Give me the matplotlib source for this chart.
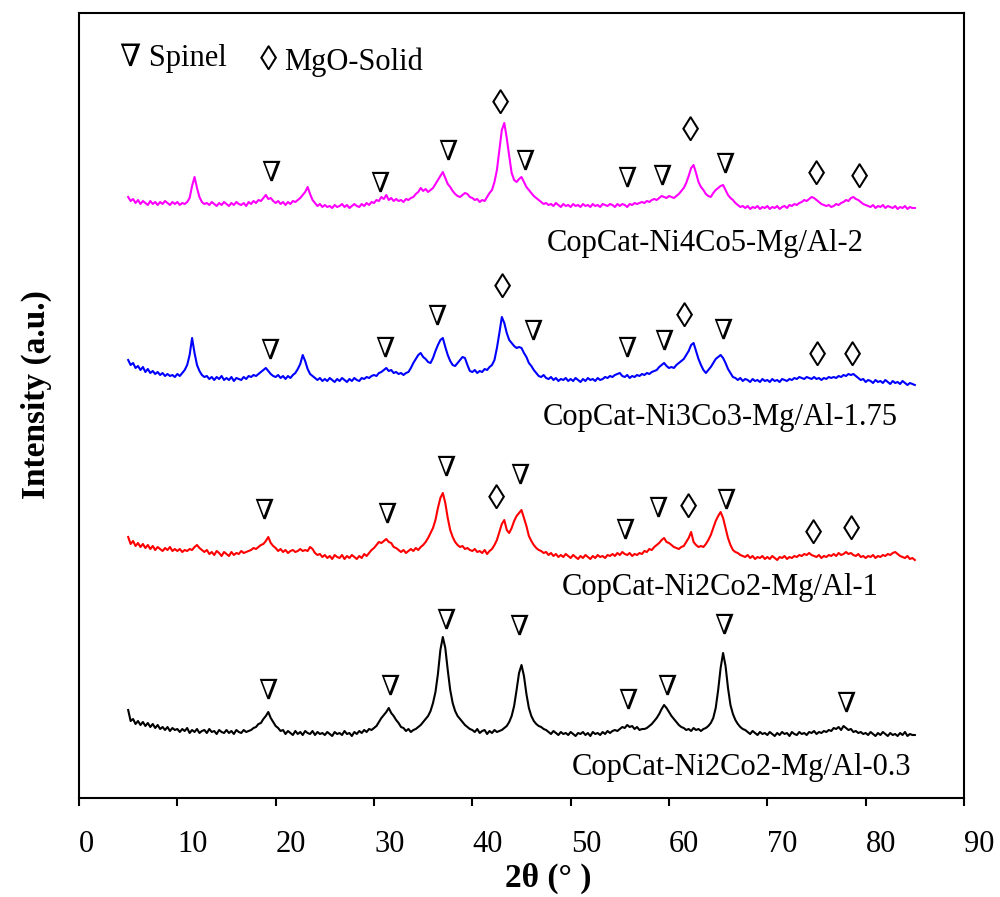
import numpy as np
import matplotlib
matplotlib.use('Agg')
import matplotlib.pyplot as plt
from matplotlib.ticker import MultipleLocator, FixedLocator

plt.rcParams['font.family'] = ['Liberation Serif', 'DejaVu Serif']

# 2-theta grid of the scans (degrees, 0.25 step)
two_theta = np.arange(5.0, 85.001, 0.25)

# intensities (a.u.) at each grid point
black_y = [
    48, 37, 39, 34, 37, 33, 36, 32, 35, 31, 34, 30, 33, 29, 31, 28, 31, 27, 30, 28,
    29, 26, 29, 27, 30, 25, 28, 26, 29, 25, 27, 28, 25, 29, 26, 27, 24, 28, 26, 25,
    28, 25, 27, 24, 28, 26, 25, 28, 26, 27, 28, 30, 31, 34, 35, 39, 42, 46, 40, 36,
    32, 30, 27, 28, 24, 27, 25, 23, 27, 24, 26, 23, 27, 25, 24, 27, 23, 26, 24, 25,
    23, 26, 24, 22, 26, 24, 25, 23, 27, 24, 25, 22, 26, 24, 27, 25, 28, 26, 29, 28,
    30, 32, 36, 40, 43, 46, 50, 45, 42, 38, 35, 31, 30, 27, 29, 26, 28, 29, 31, 33,
    36, 39, 42, 47, 55, 66, 84, 108, 121, 110, 88, 68, 55, 47, 42, 39, 36, 33, 31, 29,
    28, 26, 29, 25, 27, 28, 24, 27, 25, 28, 26, 27, 28, 30, 32, 36, 42, 52, 68, 85,
    93, 82, 64, 50, 42, 37, 34, 32, 31, 29, 28, 26, 24, 27, 25, 23, 26, 24, 25, 23,
    26, 24, 22, 25, 24, 26, 23, 25, 22, 26, 24, 25, 23, 26, 24, 27, 25, 27, 28, 27,
    29, 31, 30, 33, 31, 32, 29, 31, 28, 29, 29, 30, 32, 34, 37, 40, 44, 49, 53, 50,
    46, 42, 39, 36, 33, 31, 30, 28, 29, 27, 30, 28, 29, 27, 29, 30, 32, 35, 40, 50,
    68, 90, 105, 92, 70, 53, 44, 38, 34, 31, 29, 28, 26, 24, 27, 25, 23, 26, 24, 25,
    23, 26, 24, 22, 25, 23, 26, 24, 25, 22, 26, 24, 23, 26, 24, 25, 23, 26, 25, 27,
    24, 26, 25, 27, 26, 28, 27, 30, 29, 31, 28, 32, 30, 28, 29, 26, 27, 25, 26, 24,
    25, 23, 26, 24, 22, 25, 23, 26, 24, 22, 25, 23, 24, 22, 25, 23, 26, 22, 24, 23,
    23,
]
red_y = [
    41, 34, 37, 32, 35, 31, 34, 30, 33, 29, 32, 28, 31, 29, 27, 30, 28, 31, 27, 29,
    27, 29, 26, 28, 27, 29, 28, 31, 33, 30, 28, 26, 28, 24, 26, 23, 27, 25, 22, 26,
    24, 22, 26, 23, 25, 24, 27, 25, 26, 27, 28, 30, 29, 31, 33, 34, 37, 41, 35, 32,
    30, 27, 29, 26, 28, 25, 27, 28, 26, 27, 29, 27, 28, 27, 31, 29, 25, 23, 24, 21,
    23, 20, 22, 19, 23, 21, 20, 23, 19, 22, 20, 23, 21, 19, 22, 20, 24, 22, 25, 28,
    30, 33, 36, 35, 37, 39, 36, 35, 31, 30, 28, 26, 28, 25, 27, 29, 27, 30, 28, 31,
    33, 36, 40, 45, 50, 58, 70, 80, 85, 75, 60, 48, 41, 36, 33, 31, 32, 29, 30, 28,
    27, 29, 26, 27, 25, 28, 24, 27, 29, 33, 38, 46, 54, 58, 48, 45, 50, 57, 62, 65,
    68, 60, 52, 42, 37, 33, 30, 28, 27, 25, 26, 23, 25, 22, 24, 21, 23, 21, 24, 22,
    20, 23, 21, 19, 22, 20, 23, 21, 19, 22, 20, 23, 21, 22, 20, 23, 22, 24, 22, 25,
    23, 26, 24, 23, 25, 22, 24, 23, 25, 24, 27, 26, 29, 28, 31, 33, 35, 38, 40, 36,
    35, 33, 31, 30, 29, 31, 32, 36, 40, 46, 36, 33, 31, 32, 31, 34, 38, 43, 50, 57,
    62, 66, 60, 50, 40, 33, 28, 26, 25, 23, 22, 21, 23, 20, 22, 19, 21, 20, 22, 19,
    21, 19, 22, 20, 18, 21, 20, 22, 19, 21, 20, 22, 21, 23, 22, 24, 23, 25, 23, 22,
    21, 23, 20, 22, 21, 23, 22, 24, 22, 25, 23, 24, 26, 24, 25, 23, 22, 24, 21, 22,
    20, 22, 21, 23, 20, 22, 21, 23, 22, 24, 23, 25, 26, 24, 22, 21, 20, 22, 19, 20,
    18,
]
blue_y = [
    43, 38, 40, 35, 37, 33, 36, 31, 34, 30, 32, 29, 31, 28, 30, 27, 29, 27, 28, 26,
    29, 27, 30, 33, 38, 48, 65, 50, 38, 32, 28, 26, 27, 24, 26, 23, 26, 24, 27, 23,
    25, 23, 26, 22, 25, 24, 23, 26, 24, 27, 26, 28, 27, 29, 31, 33, 35, 32, 29, 27,
    26, 28, 25, 27, 24, 27, 25, 28, 30, 34, 39, 48, 42, 34, 29, 27, 25, 23, 25, 22,
    24, 22, 25, 23, 21, 24, 22, 25, 23, 21, 24, 22, 25, 23, 22, 25, 24, 26, 25, 27,
    28, 27, 30, 31, 33, 35, 32, 33, 30, 31, 29, 30, 28, 30, 31, 35, 40, 44, 48, 50,
    46, 44, 41, 40, 45, 52, 58, 63, 65, 56, 48, 42, 38, 37, 40, 43, 46, 45, 38, 32,
    31, 33, 30, 32, 31, 34, 33, 36, 38, 43, 55, 70, 86, 80, 70, 63, 60, 57, 55, 56,
    55, 50, 46, 40, 37, 33, 30, 27, 26, 28, 25, 24, 26, 23, 25, 22, 24, 23, 25, 22,
    24, 22, 25, 23, 21, 24, 22, 25, 23, 24, 22, 25, 23, 24, 26, 25, 27, 26, 28, 29,
    30, 27, 26, 28, 25, 27, 26, 28, 27, 29, 28, 30, 29, 31, 32, 33, 36, 38, 40, 37,
    35, 36, 35, 38, 40, 42, 44, 48, 52, 58, 60, 52, 44, 38, 33, 30, 33, 36, 40, 44,
    46, 48, 45, 40, 34, 30, 26, 25, 23, 25, 22, 24, 23, 21, 24, 22, 23, 21, 24, 22,
    23, 21, 24, 22, 23, 21, 24, 23, 22, 24, 23, 25, 24, 26, 25, 24, 26, 25, 24, 26,
    24, 25, 23, 25, 24, 26, 25, 26, 25, 27, 26, 28, 27, 29, 28, 29, 27, 25, 23, 24,
    21, 23, 22, 20, 23, 21, 22, 20, 23, 21, 19, 22, 20, 21, 19, 22, 20, 18, 20, 19,
    18,
]
magenta_y = [
    31, 27, 29, 25, 28, 24, 27, 25, 23, 27, 24, 26, 23, 26, 24, 27, 25, 23, 26, 24,
    26, 23, 25, 24, 26, 30, 42, 51, 40, 31, 26, 24, 25, 23, 26, 24, 22, 25, 23, 26,
    24, 22, 25, 23, 26, 24, 23, 25, 22, 26, 24, 27, 25, 28, 27, 30, 33, 29, 30, 27,
    25, 27, 24, 26, 23, 26, 24, 27, 26, 28, 30, 33, 36, 41, 34, 28, 25, 22, 24, 21,
    23, 21, 22, 20, 23, 21, 22, 24, 21, 23, 20, 22, 24, 22, 21, 24, 22, 25, 23, 26,
    25, 28, 27, 31, 29, 33, 28, 30, 27, 29, 27, 28, 26, 29, 28, 30, 31, 34, 36, 40,
    37, 39, 36, 38, 40, 44, 48, 52, 56, 50, 44, 41, 37, 34, 32, 31, 33, 35, 34, 31,
    30, 28, 29, 26, 28, 27, 31, 35, 38, 46, 58, 78, 98, 105, 90, 72, 55, 48, 46, 49,
    51, 46, 41, 38, 35, 32, 30, 28, 26, 24, 25, 23, 24, 22, 25, 23, 21, 24, 22, 23,
    21, 24, 22, 23, 21, 24, 22, 23, 21, 24, 22, 23, 21, 24, 23, 22, 24, 23, 21, 24,
    22, 24, 23, 21, 24, 23, 25, 24, 25, 26, 25, 27, 26, 28, 29, 28, 30, 32, 31, 30,
    32, 31, 30, 32, 34, 37, 40, 45, 52, 60, 63, 55, 46, 41, 38, 34, 32, 31, 35, 38,
    40, 42, 43, 38, 33, 30, 28, 25, 23, 21, 22, 20, 22, 19, 21, 20, 22, 19, 21, 20,
    22, 19, 21, 20, 22, 19, 21, 22, 20, 23, 22, 24, 23, 25, 26, 28, 27, 29, 31, 30,
    28, 26, 24, 23, 22, 23, 21, 22, 24, 23, 25, 26, 28, 27, 30, 31, 29, 28, 26, 24,
    23, 22, 21, 23, 20, 22, 21, 23, 20, 22, 21, 20, 22, 19, 21, 20, 22, 19, 21, 20,
    20,
]

series_names = ['CopCat-Ni2Co2-Mg/Al-0.3', 'CopCat-Ni2Co2-Mg/Al-1',
                'CopCat-Ni3Co3-Mg/Al-1.75', 'CopCat-Ni4Co5-Mg/Al-2']
series_data = [black_y, red_y, blue_y, magenta_y]
series_colors = ['black', '#ff0000', '#0000ff', '#ff00ff']
offsets = [40, 220, 395, 570]
name_pos = [(50.1, 30), (49.1, 210), (47.2, 381), (47.6, 555)]

# phase marks: (2theta, height, symbol)  S = spinel, M = MgO solid solution
marks = [
    [(19.2, 106, 'S'), (31.6, 110, 'S'), (37.3, 176, 'S'), (44.75, 170, 'S'),
     (55.8, 96, 'S'), (59.8, 110, 'S'), (65.6, 171, 'S'), (78.0, 93, 'S')],
    [(18.8, 286, 'S'), (31.3, 282, 'S'), (37.3, 329, 'S'), (42.5, 298, 'M'),
     (44.85, 321, 'S'), (55.5, 266, 'S'), (58.9, 288, 'S'), (62.0, 288, 'M'),
     (65.8, 296, 'S'), (74.65, 263, 'M'), (78.6, 266, 'M')],
    [(19.4, 446, 'S'), (31.1, 448, 'S'), (36.4, 480, 'S'), (43.1, 509, 'M'),
     (46.2, 465, 'S'), (55.7, 448, 'S'), (59.5, 455, 'S'), (61.6, 480, 'M'),
     (65.5, 466, 'S'), (75.05, 441, 'M'), (78.7, 441, 'M')],
    [(19.5, 624, 'S'), (30.6, 613, 'S'), (37.5, 645, 'S'), (42.9, 693, 'M'),
     (45.4, 635, 'S'), (55.7, 618, 'S'), (59.3, 620, 'S'), (62.2, 666, 'M'),
     (65.7, 632, 'S'), (74.95, 622, 'M'), (79.4, 619, 'M')],
]
symbols = {'S': '\u2207', 'M': '\u25ca'}
sym_size = {'S': 20, 'M': 25}

fig = plt.figure(figsize=(10, 8.97), dpi=100)
ax = fig.add_axes([0.079, 1 - 798 / 897, 0.885, 785 / 897])

for y, c, off in zip(series_data, series_colors, offsets):
    ax.plot(two_theta, np.array(y) + off, color=c, lw=1.5)

for name, (x0, y0) in zip(series_names, name_pos):
    ax.text(x0, y0, name, fontsize=22, ha='left', va='center')

for group in marks:
    for x0, y0, s in group:
        ax.text(x0, y0, symbols[s], fontsize=sym_size[s], ha='center', va='center')

# key in the top-left corner
ax.text(4.2, 740, '\u2207 Spinel', fontsize=22, ha='left', va='center')
ax.text(19.3, 737, '\u25ca', fontsize=25, ha='center', va='center')
ax.text(20.9, 736, 'MgO-Solid', fontsize=22, ha='left', va='center')

ax.set_xlim(0, 90)
ax.set_ylim(0, 785)
ax.set_yticks([])
ax.xaxis.set_major_locator(MultipleLocator(10))
ax.xaxis.set_minor_locator(FixedLocator([0, 20, 40, 60, 80]))
ax.tick_params(axis='x', which='major', length=6, width=1.5, direction='out',
               labelsize=22, pad=17)
ax.tick_params(axis='x', which='minor', length=14, width=1.5, direction='out')
for lab in ax.get_xticklabels():
    lab.set_ha('left')
for sp in ax.spines.values():
    sp.set_linewidth(1.5)

fig.text(0.548, 1 - 878 / 897, '2\u03b8 (\u00b0 )', fontsize=24, fontweight='bold',
         ha='center', va='center')
fig.text(0.036, 1 - 395 / 897, 'Intensity (a.u.)', fontsize=24, fontweight='bold',
         rotation=90, ha='center', va='center')

fig.savefig('out.png', dpi=100)
